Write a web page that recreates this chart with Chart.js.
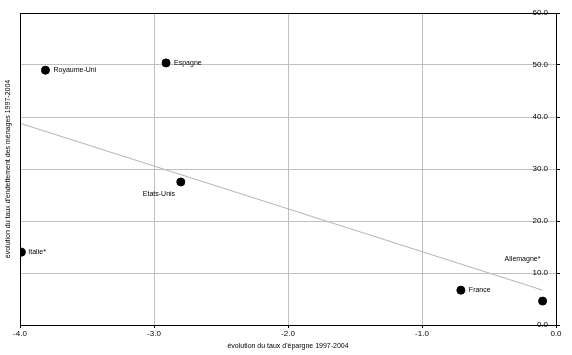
<!DOCTYPE html>
<html>
<head>
<meta charset="utf-8">
<script src="https://cdn.jsdelivr.net/npm/chart.js@4"></script>
<style>
  html, body { margin: 0; padding: 0; background: #fff; }
  #wrap { width: 572px; height: 355px; }
</style>
</head>
<body>
<div id="wrap"><canvas id="chart"></canvas></div>
<script>
// donnees
const pays = ['Royaume-Uni', 'Espagne', 'Etats-Unis', 'Italie*', 'France', 'Allemagne*'];
const epargne = [-3.81, -2.91, -2.80, -3.99, -0.71, -0.10];
const endettement = [49.0, 50.4, 27.5, 14.0, 6.7, 4.6];
const tendanceX = [-4.0, -0.1];
const tendanceY = [38.8, 6.7];
const xTicks = ['-4.0', '-3.0', '-2.0', '-1.0', '0.0'];

// decalage des etiquettes (px)
const labelOffset = [[8, 0], [8, 0], [-38, 12], [7, 0], [8, 0], [-38, -42]];

const pointData = pays.map((p, i) => ({ x: epargne[i], y: endettement[i] }));
const lineData = tendanceX.map((x, i) => ({ x: x, y: tendanceY[i] }));

const FONT = 'Liberation Sans, Arial, sans-serif';

const decor = {
    id: 'decor',
    afterDatasetsDraw(chart) {
        const ctx = chart.ctx;
        const a = chart.chartArea;
        ctx.save();
        // cadre
        ctx.strokeStyle = '#000';
        ctx.lineWidth = 1;
        ctx.strokeRect(a.left + 0.5, a.top + 0.5, a.right - a.left, a.bottom - a.top);

        // etiquettes des pays
        const meta = chart.getDatasetMeta(1);
        ctx.fillStyle = '#000';
        ctx.font = '7px ' + FONT;
        ctx.textBaseline = 'middle';
        ctx.textAlign = 'left';
        meta.data.forEach((pt, i) => {
            ctx.fillText(pays[i], pt.x + labelOffset[i][0], pt.y + labelOffset[i][1]);
        });

        // titres des axes
        ctx.textAlign = 'center';
        ctx.fillText("évolution du taux d'épargne 1997-2004", (a.left + a.right) / 2, 346);
        ctx.translate(8, (a.top + a.bottom) / 2);
        ctx.rotate(-Math.PI / 2);
        ctx.fillText("évolution du taux d'endettement des ménages 1997-2004", 0, 0);
        ctx.restore();
    }
};

new Chart(document.getElementById('chart'), {
    type: 'scatter',
    data: {
        datasets: [
            {
                type: 'line', data: lineData, borderColor: '#b4b4b4', borderWidth: 1,
                pointRadius: 0, fill: false, tension: 0
            },
            {
                data: pointData, backgroundColor: '#000', borderColor: '#000',
                pointRadius: 4, pointHoverRadius: 4
            }
        ]
    },
    options: {
        responsive: true,
        maintainAspectRatio: false,
        animation: false,
        layout: { padding: { left: 20, top: 13, right: 0, bottom: 0 } },
        plugins: { legend: { display: false }, tooltip: { enabled: false } },
        scales: {
            x: {
                type: 'linear', min: -4, max: 0,
                afterFit: s => { s.height = 30; },
                grid: { color: '#c0c0c0', tickColor: '#000', tickLength: 3 },
                border: { color: '#000' },
                ticks: {
                    stepSize: 1, color: '#000', padding: 1, maxRotation: 0,
                    font: { family: FONT, size: 8 },
                    callback: (v, i) => xTicks[i]
                }
            },
            y: {
                type: 'linear', position: 'right', min: 0, max: 60,
                afterFit: s => { s.width = 16; },
                grid: { color: '#c0c0c0', tickColor: '#000', tickLength: 4 },
                border: { color: '#000' },
                ticks: {
                    stepSize: 10, color: '#000', mirror: true, padding: -8,
                    font: { family: FONT, size: 8 },
                    callback: v => v.toFixed(1)
                }
            }
        }
    },
    plugins: [decor]
});
</script>
</body>
</html>
